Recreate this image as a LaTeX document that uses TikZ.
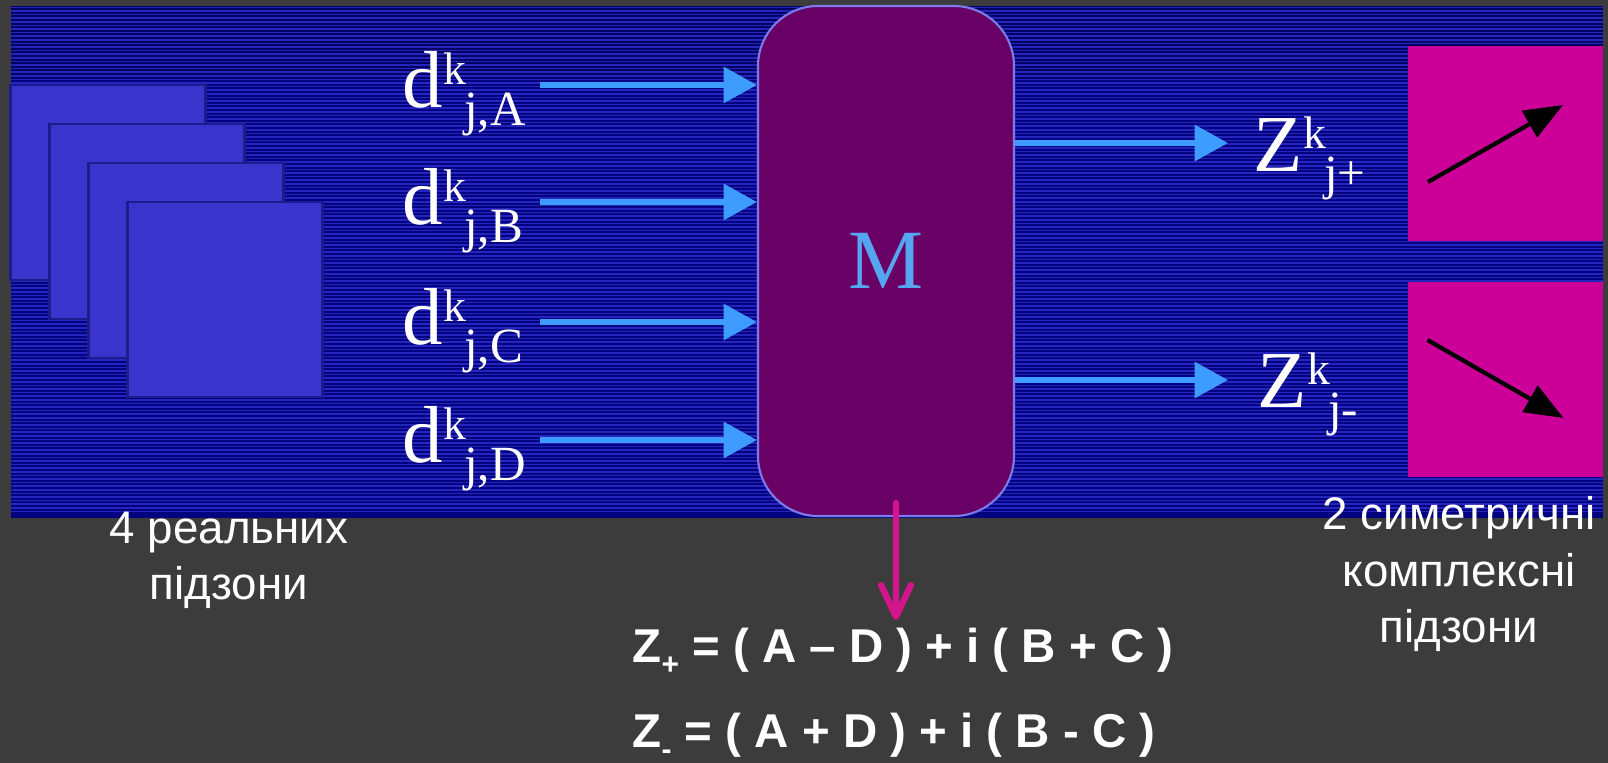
\documentclass[tikz,border=0pt]{standalone}
\usepackage{fontspec}
\setmainfont{Liberation Sans}
\newfontfamily\labserif{Liberation Serif}
\usepackage{tikz}
\usetikzlibrary{arrows.meta, positioning, calc}
\definecolor{slidegray}{HTML}{3C3C3C}
\definecolor{panelblue}{HTML}{03037F}
\definecolor{paneltop}{HTML}{020262}
\definecolor{stripeblue}{HTML}{2424BE}
\definecolor{bandblue}{HTML}{3A34CC}
\definecolor{bandedge}{HTML}{1C1C8C}
\definecolor{flowblue}{HTML}{3E9BFF}
\definecolor{mixpurple}{HTML}{690066}
\definecolor{mixedge}{HTML}{7B7BEA}
\definecolor{mixtext}{HTML}{55A5F0}
\definecolor{cplxmag}{HTML}{CC0099}
\definecolor{downmag}{HTML}{D4148C}
\newcommand{\idx}[3]{{\fontsize{23}{23}\selectfont #1}\rlap{\raisebox{6.6pt}{\fontsize{13}{13}\selectfont #2}}\hspace{6pt}\raisebox{-5pt}{\fontsize{14}{14}\selectfont #3}}
\newcommand{\lowsub}[1]{\raisebox{-3.4pt}{\fontsize{8.5}{8.5}\selectfont #1}}
\tikzset{
	subband/.style={
			draw=bandedge,
			fill=bandblue,
			line width=0.8pt,
			minimum size=1.95cm,
			inner sep=0pt
		},
	mixbox/.style={
			draw=mixedge,
			fill=mixpurple,
			line width=0.6pt,
			rounded corners=0.6cm,
			minimum width=2.56cm,
			minimum height=5.10cm,
			text=mixtext,
			font=\labserif\fontsize{24}{24}\selectfont
		},
	cplxbox/.style={
			fill=cplxmag,
			minimum size=1.95cm,
			inner sep=0pt
		},
	idxlabel/.style={
			text=white,
			inner sep=0pt,
			font=\labserif
		},
	caption/.style={
			text=white,
			inner sep=0pt,
			align=center,
			font=\fontsize{13}{16.2}\selectfont
		},
	formula/.style={
			text=white,
			inner sep=0pt,
			font=\bfseries\fontsize{13.5}{16}\selectfont
		},
	flow/.style={
			flowblue,
			line width=1.7pt,
			-{Triangle[length=9.5pt,width=10pt]}
		},
	phasor/.style={
			black,
			line width=1.2pt,
			-{Triangle[length=11pt,width=8.5pt]}
		},
	tomix/.style={
			downmag,
			line width=1.8pt,
			line cap=round,
			-{Straight Barb[length=9pt,width=8.5pt,line cap=round,line join=round]}
		}
}

\begin{document}
\begin{tikzpicture}
\useasboundingbox (0,0) rectangle (16.08,-7.63);
\fill[slidegray] (0,0) rectangle (16.08,-7.63);
\fill[panelblue] (0.11,-0.06) rectangle (16.03,-5.18);
\fill[paneltop] (0.11,-0.06) rectangle (16.03,-0.78);
\foreach \k in {0,...,140}
	\draw[stripeblue, line width=0.45pt] (0.11,{-0.075-0.036*\k}) -- (16.03,{-0.075-0.036*\k});

\foreach \i in {1,...,4}
	\node[subband] (sb\i) at ({0.69+0.39*\i},{-1.435-0.39*\i}) {};

\node[mixbox] (M) at (8.86,-2.61) {M};

\foreach \s/\y in {A/0.85, B/2.02, C/3.22, D/4.40} {
	\coordinate (in\s) at (5.40,-\y);
	\node[idxlabel, anchor=base west] (d\s) at (4.02,{-\y-0.23}) {\idx{d}{k}{j,\s}};
	\draw[flow] (in\s) -- (in\s -| M.west);
}

\node[idxlabel, anchor=base west] (zp) at (12.53,-1.72) {\idx{Z}{k}{j+}};
\node[idxlabel, anchor=base west] (zm) at (12.57,-4.08) {\idx{Z}{k}{j-}};
\coordinate (outp) at (12.28,-1.43);
\coordinate (outm) at (12.28,-3.80);
\draw[flow] (outp -| M.east) -- (outp);
\draw[flow] (outm -| M.east) -- (outm);

\node[cplxbox] (sqp) at (15.055,-1.435) {};
\node[cplxbox] (sqm) at (15.055,-3.80) {};
\draw[phasor] ([shift={(-0.775,-0.385)}]sqp.center) -- ([shift={(0.575,0.385)}]sqp.center);
\draw[phasor] ([shift={(-0.78,0.40)}]sqm.center) -- ([shift={(0.58,-0.38)}]sqm.center);

\node[caption, anchor=base] (lcap) at (2.29,-6.00) {4 реальних\\підзони};
\node[caption, anchor=base] (rcap) at (14.59,-6.43) {2 симетричні\\комплексні\\підзони};

\node[formula, anchor=base west] (fplus) at (6.32,-6.63) {Z\lowsub{+} = ( A – D ) + i ( B + C )};
\node[formula, anchor=base west] (fminus) at (6.32,-7.48) {Z\lowsub{-} = ( A + D ) + i ( B - C )};

\coordinate (ztip) at (8.96,-6.20);
\draw[tomix] ($(ztip |- M.south)+(0,0.14)$) -- (ztip);
\end{tikzpicture}
\end{document}
